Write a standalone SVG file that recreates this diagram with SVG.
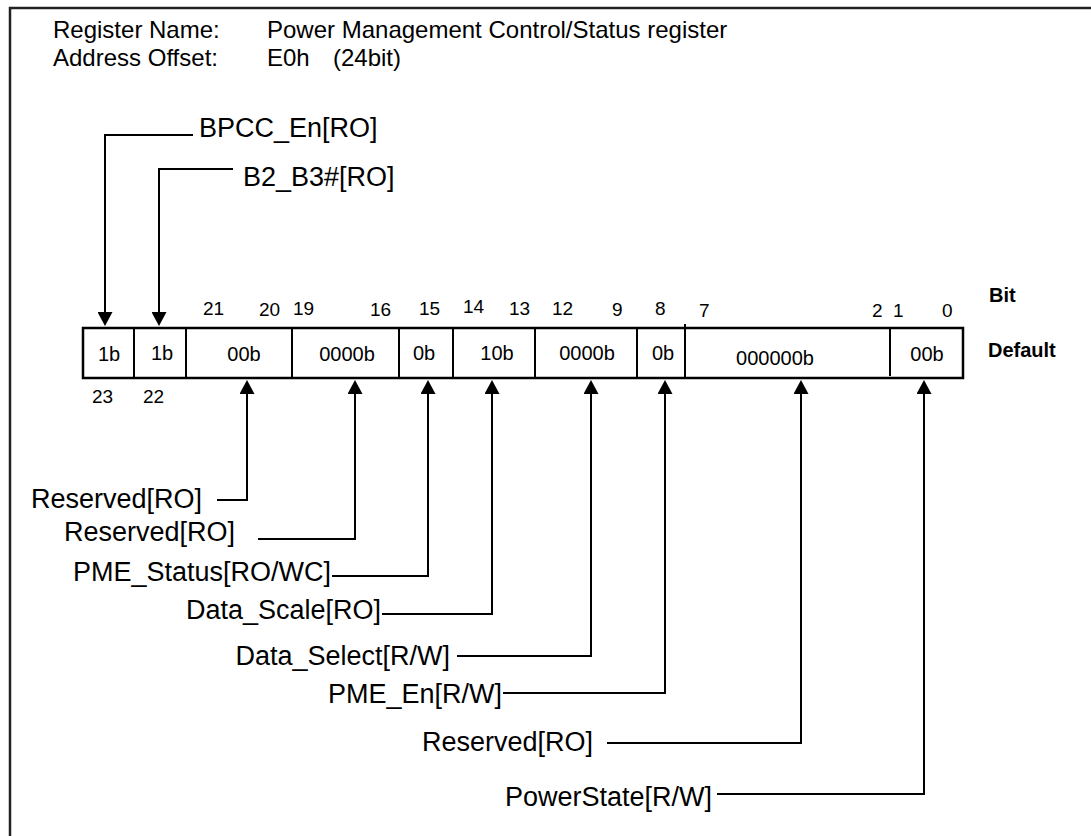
<svg xmlns="http://www.w3.org/2000/svg" width="1091" height="836" viewBox="0 0 1091 836">
<style>
text{font-family:"Liberation Sans",Arial,sans-serif;fill:#000}
.hdr{font-size:24px}
.lbl{font-size:27px}
.num{font-size:19px}
.val{font-size:20px;text-anchor:middle}
.bold{font-size:20px;font-weight:bold}
.frame{fill:none;stroke:#222;stroke-width:2.5}
.reg{fill:#fff;stroke:#000;stroke-width:2.5}
.div{stroke:#000;stroke-width:2}
.con{fill:none;stroke:#000;stroke-width:2}
</style>
<defs>
<marker id="ah" viewBox="0 0 14 15" refX="0" refY="7.5" markerWidth="14" markerHeight="15" orient="auto" markerUnits="userSpaceOnUse"><path d="M0,0 L14,7.5 L0,15 z" fill="#000"/></marker>
</defs>
<rect width="1091" height="836" fill="#fff"/>
<rect class="frame" x="10" y="8" width="1200" height="1000"/>
<g id="header">
<text class="hdr" x="53" y="38">Register Name:</text>
<text class="hdr" x="267" y="38">Power Management Control/Status register</text>
<text class="hdr" x="53" y="66">Address Offset:</text>
<text class="hdr" x="267" y="66">E0h</text>
<text class="hdr" x="333" y="66">(24bit)</text>
</g>
<g id="register">
<rect class="reg" x="83" y="328" width="880" height="50"/>
<line class="div" x1="134" y1="328" x2="134" y2="378"/>
<line class="div" x1="186" y1="328" x2="186" y2="378"/>
<line class="div" x1="292" y1="328" x2="292" y2="378"/>
<line class="div" x1="399" y1="328" x2="399" y2="378"/>
<line class="div" x1="453" y1="328" x2="453" y2="378"/>
<line class="div" x1="535" y1="328" x2="535" y2="378"/>
<line class="div" x1="637" y1="328" x2="637" y2="378"/>
<line class="div" x1="685" y1="324" x2="685" y2="378"/>
<line class="div" x1="890" y1="328" x2="890" y2="376"/>
<text class="val" x="109" y="361">1b</text>
<text class="val" x="162" y="360">1b</text>
<text class="val" x="244" y="361">00b</text>
<text class="val" x="347" y="361">0000b</text>
<text class="val" x="424" y="360">0b</text>
<text class="val" x="497" y="360">10b</text>
<text class="val" x="587" y="360">0000b</text>
<text class="val" x="663" y="360">0b</text>
<text class="val" x="775" y="365">000000b</text>
<text class="val" x="927" y="361">00b</text>
</g>
<g id="bit-numbers">
<text class="num" x="203" y="315">21</text>
<text class="num" x="259" y="316">20</text>
<text class="num" x="293" y="315">19</text>
<text class="num" x="370" y="316">16</text>
<text class="num" x="419" y="315">15</text>
<text class="num" x="463" y="313">14</text>
<text class="num" x="509" y="315">13</text>
<text class="num" x="552" y="315">12</text>
<text class="num" x="612" y="316">9</text>
<text class="num" x="655" y="315">8</text>
<text class="num" x="699" y="317">7</text>
<text class="num" x="872" y="317">2</text>
<text class="num" x="893" y="317">1</text>
<text class="num" x="942" y="317">0</text>
<text class="num" x="92" y="403">23</text>
<text class="num" x="143" y="403">22</text>
<text class="bold" x="989" y="302">Bit</text>
<text class="bold" x="988" y="357">Default</text>
</g>
<g id="connectors">
<path class="con" marker-end="url(#ah)" d="M193,135 H105 V312"/>
<path class="con" marker-end="url(#ah)" d="M233,169 H159 V312"/>
<path class="con" marker-end="url(#ah)" d="M217,500 H247 V394"/>
<path class="con" marker-end="url(#ah)" d="M258,539 H355 V394"/>
<path class="con" marker-end="url(#ah)" d="M332,576 H428 V394"/>
<path class="con" marker-end="url(#ah)" d="M382,614 H492 V394"/>
<path class="con" marker-end="url(#ah)" d="M457,656 H591 V394"/>
<path class="con" marker-end="url(#ah)" d="M503,693 H665 V394"/>
<path class="con" marker-end="url(#ah)" d="M607,743 H801 V394"/>
<path class="con" marker-end="url(#ah)" d="M717,794 H924 V394"/>
</g>
<g id="field-bpcc-en"><text class="lbl" x="199" y="137">BPCC_En[RO]</text></g>
<g id="field-b2-b3"><text class="lbl" x="243" y="186">B2_B3#[RO]</text></g>
<g id="field-reserved-21-20"><text class="lbl" x="202" y="508" text-anchor="end">Reserved[RO]</text></g>
<g id="field-reserved-19-16"><text class="lbl" x="235" y="541" text-anchor="end">Reserved[RO]</text></g>
<g id="field-pme-status"><text class="lbl" x="331" y="581" text-anchor="end">PME_Status[RO/WC]</text></g>
<g id="field-data-scale"><text class="lbl" x="381" y="619" text-anchor="end">Data_Scale[RO]</text></g>
<g id="field-data-select"><text class="lbl" x="450" y="665" text-anchor="end">Data_Select[R/W]</text></g>
<g id="field-pme-en"><text class="lbl" x="502" y="703" text-anchor="end">PME_En[R/W]</text></g>
<g id="field-reserved-7-2"><text class="lbl" x="593" y="751" text-anchor="end">Reserved[RO]</text></g>
<g id="field-powerstate"><text class="lbl" x="712" y="806" text-anchor="end">PowerState[R/W]</text></g>
</svg>
